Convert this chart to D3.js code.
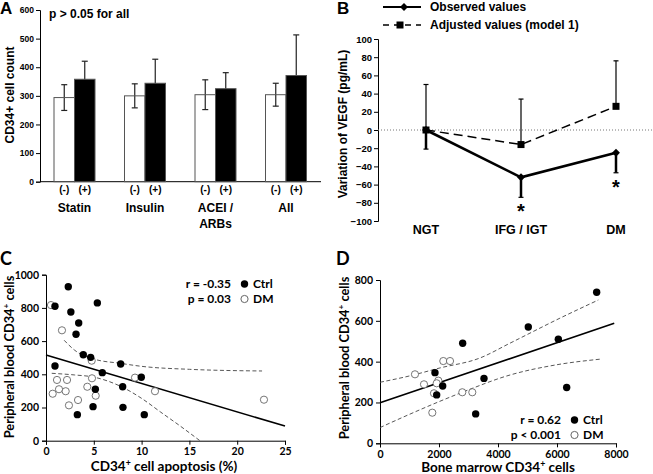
<!DOCTYPE html>
<html>
<head>
<meta charset="utf-8">
<script src="https://cdn.jsdelivr.net/npm/d3@7"></script>
<style>
  body { margin: 0; background: #fff; }
  text { font-family: "Liberation Sans", Arial, sans-serif; font-weight: bold; fill: #000; }
  .cd text { font-family: Lato, "Open Sans", sans-serif; }
</style>
</head>
<body>
<div id="chart"></div>
<script>
// ---- panel A data
const groupsA = ["Statin", "Insulin", "ACEI / ARBs", "All"];
const meanNeg = [294, 300, 304, 304];
const errNeg = [45, 42, 52, 40];
const meanPos = [358, 344, 325, 371];
const errPos = [63, 84, 56, 142];
const ticksA = [0, 100, 200, 300, 400, 500, 600];

// ---- panel B data
const groupsB = ["NGT", "IFG / IGT", "DM"];
const observed = [0, -52, -25];
const observedErr = [21, 22, 22];
const adjusted = [0, -16, 26];
const adjustedErr = [50, 50, 50];
const starsB = ["IFG / IGT", "DM"];
const ticksB = [-100, -80, -60, -40, -20, 0, 20, 40, 60, 80, 100];

// ---- panel C data (apoptosis %, PB CD34+)
const ctrlC = [[2.33,927],[0.94,810],[5.37,830],[2.6,775],[3.42,709],[3.14,641],[3.9,518],[4.67,502],
  [0.94,450],[7.81,462],[5.89,410],[9.97,382],[8.02,325],[5.16,310],[4.92,205],[8.05,201],[3.28,157],[10.28,157]];
const dmC = [[0.52,817],[1.67,665],[4.78,482],[9.31,380],[4.81,376],[1.15,366],[2.2,366],[4.32,325],
  [1.36,310],[2.06,298],[11.4,298],[0.7,283],[5.2,271],[3.35,245],[22.8,247],[2.4,213]];
const fitC = [[0,516],[25,88]];
const upperC = [[1.9,605],[3,545],[5,492],[7.8,466],[10,448],[15,430],[22.6,420]];
const lowerC = [[0.6,406],[3,396],[5,383],[8,322],[10,255],[12,172],[14,90],[16.1,0]];
const ticksCx = [0, 5, 10, 15, 20, 25];
const ticksCy = [0, 200, 400, 600, 800, 1000];

// ---- panel D data (BM CD34+, PB CD34+)
const ctrlD = [[2803,490],[7345,740],[5027,570],[6045,510],[1864,346],[2125,281],[3525,318],[1921,237],[6328,273],[3243,144]];
const dmD = [[1186,338],[2146,403],[2373,403],[1491,289],[1977,307],[1921,294],[1830,245],[2790,250],[3129,250],[1773,150]];
const fitD = [[0,199],[7940,588]];
const upperD = [[0,299],[1000,330],[2000,368],[3390,418],[4400,490],[6100,613],[7400,702]];
const lowerD = [[0,77],[1000,142],[2000,204],[3000,262],[4300,330],[6000,385],[7450,412]];
const ticksDx = [0, 2000, 4000, 6000, 8000];
const ticksDy = [0, 200, 400, 600, 800];

const svg = d3.select("#chart").append("svg")
  .attr("width", 653).attr("height", 474);

function label(sel, x, y, txt, size, anchor) {
  return sel.append("text").attr("x", x).attr("y", y)
    .attr("font-size", size).attr("text-anchor", anchor || "start").text(txt);
}

// =================== A
const gA = svg.append("g");
const yA = d3.scaleLinear().domain([0, 600]).range([181.7, 10]);
const xA = d3.scaleBand().domain(groupsA).range([39, 321]);
const xSub = d3.scaleBand().domain(["-", "+"]).range([15, 56]);

gA.append("g").attr("transform", "translate(40,0)")
  .call(d3.axisLeft(yA).tickValues(ticksA).tickSize(4).tickPadding(2))
  .call(g => g.selectAll("text").attr("font-size", 8.5).attr("font-family", null));
gA.append("line").attr("x1", 40).attr("x2", 321).attr("y1", yA(0)).attr("y2", yA(0)).attr("stroke", "#000");

groupsA.forEach((grp, i) => {
  const x0 = xA(grp);
  const bars = [
    { k: "-", v: meanNeg[i], e: errNeg[i], fill: "#fff" },
    { k: "+", v: meanPos[i], e: errPos[i], fill: "#000" }
  ];
  bars.forEach(b => {
    const bx = x0 + xSub(b.k), bw = xSub.bandwidth(), cx = bx + bw / 2;
    gA.append("line").attr("x1", cx).attr("x2", cx)
      .attr("y1", yA(b.v - b.e)).attr("y2", yA(b.v + b.e)).attr("stroke", "#222").attr("stroke-width", 1.2);
    [b.v - b.e, b.v + b.e].forEach(v => gA.append("line").attr("x1", cx - 3).attr("x2", cx + 3)
      .attr("y1", yA(v)).attr("y2", yA(v)).attr("stroke", "#222").attr("stroke-width", 1.2));
    gA.append("rect").attr("x", bx).attr("y", yA(b.v)).attr("width", bw).attr("height", yA(0) - yA(b.v))
      .attr("fill", b.fill).attr("fill-opacity", b.fill === "#fff" ? 0 : 1)
      .attr("stroke", "#555").attr("stroke-width", 1);
    label(gA, cx, 193, "(" + b.k + ")", 10, "middle");
  });
  const lines = grp.split(" / ");
  if (lines.length > 1) {
    label(gA, x0 + 35.5, 212, lines[0] + " /", 12, "middle");
    label(gA, x0 + 35.5, 228, lines[1], 12, "middle");
  } else {
    label(gA, x0 + 35.5, 212, grp, 12, "middle");
  }
});
label(gA, 0, 14, "A", 17);
label(gA, 49, 18, "p > 0.05 for all", 12);
gA.append("text").attr("transform", "translate(14,95) rotate(-90)")
  .attr("text-anchor", "middle").attr("font-size", 12).text("CD34+ cell count");

// =================== B
const gB = svg.append("g");
const yB = d3.scaleLinear().domain([-100, 100]).range([221, 39]);
const xB = d3.scalePoint().domain(groupsB).range([426, 616]);

gB.append("g").attr("transform", "translate(378,0)")
  .call(d3.axisLeft(yB).tickValues(ticksB).tickSize(4).tickPadding(2))
  .call(g => g.selectAll("text").attr("font-size", 9.5).attr("font-family", null));
gB.append("line").attr("x1", 378).attr("x2", 653).attr("y1", yB(0)).attr("y2", yB(0))
  .attr("stroke", "#777").attr("stroke-dasharray", "1,2");

// error bars
groupsB.forEach((grp, i) => {
  const cx = xB(grp);
  gB.append("line").attr("x1", cx).attr("x2", cx).attr("y1", yB(adjusted[i])).attr("y2", yB(adjusted[i] + adjustedErr[i]))
    .attr("stroke", "#000").attr("stroke-width", 1.2);
  gB.append("line").attr("x1", cx - 2.5).attr("x2", cx + 2.5).attr("y1", yB(adjusted[i] + adjustedErr[i])).attr("y2", yB(adjusted[i] + adjustedErr[i]))
    .attr("stroke", "#000").attr("stroke-width", 1.2);
  gB.append("line").attr("x1", cx).attr("x2", cx).attr("y1", yB(observed[i])).attr("y2", yB(observed[i] - observedErr[i]))
    .attr("stroke", "#000").attr("stroke-width", 2.5);
  gB.append("line").attr("x1", cx - 2.5).attr("x2", cx + 2.5).attr("y1", yB(observed[i] - observedErr[i])).attr("y2", yB(observed[i] - observedErr[i]))
    .attr("stroke", "#000").attr("stroke-width", 1.2);
});

const lineB = d3.line().x((d, i) => xB(groupsB[i])).y(d => yB(d));
gB.append("path").attr("d", lineB(adjusted)).attr("fill", "none").attr("stroke", "#000")
  .attr("stroke-width", 1.5).attr("stroke-dasharray", "9,5");
gB.append("path").attr("d", lineB(observed)).attr("fill", "none").attr("stroke", "#000").attr("stroke-width", 2.6);

const diamond = d3.symbol().type(d3.symbolDiamond2).size(40);
gB.selectAll(".sq").data(adjusted).join("rect")
  .attr("x", (d, i) => xB(groupsB[i]) - 3.5).attr("y", d => yB(d) - 3.5).attr("width", 7).attr("height", 7).attr("fill", "#000");
gB.selectAll(".dm").data(observed).join("path")
  .attr("transform", (d, i) => `translate(${xB(groupsB[i])},${yB(d)})`).attr("d", diamond).attr("fill", "#000");

starsB.forEach(grp => {
  const i = groupsB.indexOf(grp);
  label(gB, xB(grp), yB(observed[i] - observedErr[i]) + 21, "*", 20, "middle");
});
groupsB.forEach(grp => label(gB, xB(grp), 234, grp, 12.5, "middle"));

// legend B
gB.append("line").attr("x1", 383).attr("x2", 421).attr("y1", 7).attr("y2", 7).attr("stroke", "#000").attr("stroke-width", 1.8);
gB.append("path").attr("transform", "translate(404,7)").attr("d", diamond).attr("fill", "#000");
gB.append("line").attr("x1", 383).attr("x2", 421).attr("y1", 25).attr("y2", 25).attr("stroke", "#000")
  .attr("stroke-width", 1.5).attr("stroke-dasharray", "6,5");
gB.append("rect").attr("x", 396.5).attr("y", 21.5).attr("width", 7).attr("height", 7).attr("fill", "#000");
label(gB, 430, 11, "Observed values", 12);
label(gB, 430, 29, "Adjusted values (model 1)", 12);
label(gB, 337, 14, "B", 17);
gB.append("text").attr("transform", "translate(347,124) rotate(-90)")
  .attr("text-anchor", "middle").attr("font-size", 12).text("Variation of VEGF (pg/mL)");

// =================== C & D scatter helper
function scatter(g, x, y, ctrl, dm, fit, upper, lower, xt, yt) {
  g.append("g").attr("transform", `translate(0,${y.range()[0]})`)
    .call(d3.axisBottom(x).tickValues(xt).tickFormat(d3.format("d")).tickSize(4).tickPadding(3))
    .call(s => s.selectAll("text").attr("font-size", 10.5).attr("font-family", null));
  g.append("g").attr("transform", `translate(${x.range()[0]},0)`)
    .call(d3.axisLeft(y).tickValues(yt).tickFormat(d3.format("d")).tickSize(4).tickPadding(3))
    .call(s => s.selectAll("text").attr("font-size", 10.5).attr("font-family", null));
  const ln = d3.line().x(d => x(d[0])).y(d => y(d[1])).curve(d3.curveMonotoneX);
  [upper, lower].forEach(b => g.append("path").attr("d", ln(b)).attr("fill", "none")
    .attr("stroke", "#444").attr("stroke-width", 0.9).attr("stroke-dasharray", "4,2.5"));
  g.append("path").attr("d", ln(fit)).attr("fill", "none").attr("stroke", "#000").attr("stroke-width", 1.6);
  g.selectAll(".o").data(dm).join("circle")
    .attr("cx", d => x(d[0])).attr("cy", d => y(d[1])).attr("r", 3.6)
    .attr("fill", "#fff").attr("stroke", "#666").attr("stroke-width", 0.9);
  g.selectAll(".f").data(ctrl).join("circle")
    .attr("cx", d => x(d[0])).attr("cy", d => y(d[1])).attr("r", 3.7).attr("fill", "#000");
}

function legendCD(g, xr, y0, r, p) {
  g.append("text").attr("x", xr).attr("y", y0).attr("text-anchor", "end").attr("font-size", 12).text(r);
  g.append("text").attr("x", xr).attr("y", y0 + 15).attr("text-anchor", "end").attr("font-size", 12).text(p);
  g.append("circle").attr("cx", xr + 13.5).attr("cy", y0 - 4).attr("r", 3.7).attr("fill", "#000");
  g.append("circle").attr("cx", xr + 13.5).attr("cy", y0 + 11).attr("r", 3.6).attr("fill", "#fff").attr("stroke", "#666");
  g.append("text").attr("x", xr + 22).attr("y", y0).attr("font-size", 12).text("Ctrl");
  g.append("text").attr("x", xr + 22).attr("y", y0 + 15).attr("font-size", 12).text("DM");
}

function supLabel(g, transform, anchorX, anchorY, before, after, size) {
  const t = g.append("text").attr("transform", transform).attr("x", anchorX).attr("y", anchorY)
    .attr("text-anchor", "middle").attr("font-size", size);
  t.append("tspan").text(before);
  t.append("tspan").attr("dy", -5).attr("font-size", size * 0.65).text("+");
  t.append("tspan").attr("dy", 5).text(after);
  return t;
}

// =================== C
const gC = svg.append("g").attr("class", "cd");
const xC = d3.scaleLinear().domain([0, 25]).range([46, 285]);
const yC = d3.scaleLinear().domain([0, 1000]).range([440.7, 274.7]);
scatter(gC, xC, yC, ctrlC, dmC, fitC, upperC, lowerC, ticksCx, ticksCy);
gC.append("text").attr("x", 0).attr("y", 265).attr("font-size", 18).text("C");
legendCD(gC, 231, 288, "r = -0.35", "p = 0.03");
supLabel(gC, null, 164, 471, "CD34", " cell apoptosis (%)", 13.5);
supLabel(gC, "translate(14,357) rotate(-90)", 0, 0, "Peripheral blood CD34", " cells", 12.8);

// =================== D
const gD = svg.append("g").attr("class", "cd");
const xD = d3.scaleLinear().domain([0, 8000]).range([380, 616]);
const yD = d3.scaleLinear().domain([0, 800]).range([443.3, 280]);
scatter(gD, xD, yD, ctrlD, dmD, fitD, upperD, lowerD, ticksDx, ticksDy);
gD.append("text").attr("x", 336).attr("y", 265).attr("font-size", 18).text("D");
legendCD(gD, 561, 424, "r = 0.62", "p < 0.001");
supLabel(gD, null, 498, 472, "Bone marrow CD34", " cells", 13.5);
supLabel(gD, "translate(349,358) rotate(-90)", 0, 0, "Peripheral blood CD34", " cells", 12.8);
</script>
</body>
</html>
